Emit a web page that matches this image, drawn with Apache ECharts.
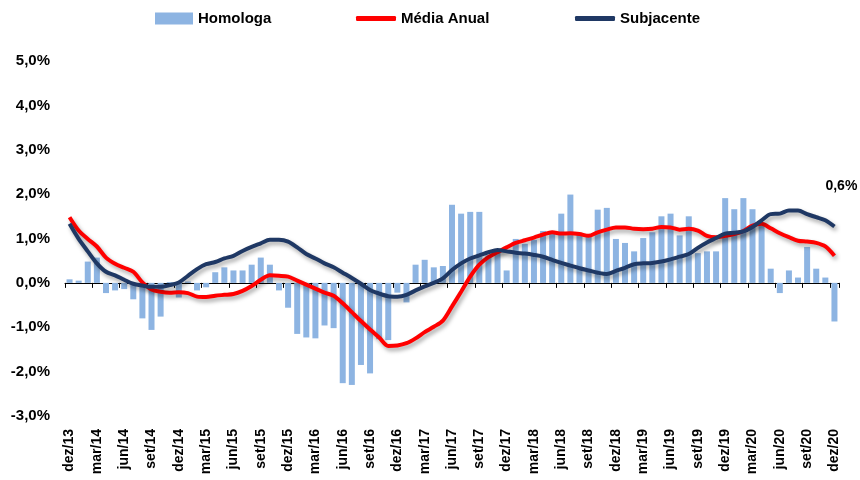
<!DOCTYPE html>
<html>
<head>
<meta charset="utf-8">
<script src="https://cdn.jsdelivr.net/npm/echarts@6/dist/echarts.min.js"></script>
<style>
  html, body { margin: 0; padding: 0; background: #fff; }
  #chart { width: 860px; height: 480px; }
</style>
</head>
<body>
<div id="chart"></div>
<script>
// months dez/13 .. dez/20
var categories = [
  'dez/13',
  'jan/14','fev/14','mar/14','abr/14','mai/14','jun/14','jul/14','ago/14','set/14','out/14','nov/14','dez/14',
  'jan/15','fev/15','mar/15','abr/15','mai/15','jun/15','jul/15','ago/15','set/15','out/15','nov/15','dez/15',
  'jan/16','fev/16','mar/16','abr/16','mai/16','jun/16','jul/16','ago/16','set/16','out/16','nov/16','dez/16',
  'jan/17','fev/17','mar/17','abr/17','mai/17','jun/17','jul/17','ago/17','set/17','out/17','nov/17','dez/17',
  'jan/18','fev/18','mar/18','abr/18','mai/18','jun/18','jul/18','ago/18','set/18','out/18','nov/18','dez/18',
  'jan/19','fev/19','mar/19','abr/19','mai/19','jun/19','jul/19','ago/19','set/19','out/19','nov/19','dez/19',
  'jan/20','fev/20','mar/20','abr/20','mai/20','jun/20','jul/20','ago/20','set/20','out/20','nov/20','dez/20'
];

var homologa = [
  0.08,
  0.05, 0.48, 0.57, -0.23, -0.17, -0.14, -0.37, -0.80, -1.06, -0.76, 0.02, -0.33,
  0.03, -0.17, -0.10, 0.24, 0.35, 0.28, 0.28, 0.41, 0.57, 0.41, -0.17, -0.56,
  -1.15, -1.23, -1.25, -0.96, -1.02, -2.26, -2.30, -1.85, -2.04, -1.27, -1.29, -0.22,
  -0.44, 0.41, 0.52, 0.35, 0.38, 1.76, 1.56, 1.60, 1.60, 0.62, 0.75, 0.28,
  0.99, 0.88, 0.97, 1.17, 1.16, 1.56, 1.99, 1.10, 1.05, 1.65, 1.69, 0.99,
  0.90, 0.71, 1.01, 1.14, 1.50, 1.56, 1.07, 1.50, 0.67, 0.71, 0.71, 1.91,
  1.66, 1.91, 1.66, 1.35, 0.32, -0.23, 0.28, 0.12, 0.81, 0.32, 0.12, -0.87
];

var mediaAnual = [
  1.48,
  1.18, 0.99, 0.82, 0.57, 0.43, 0.34, 0.25, 0.01, -0.15, -0.20, -0.22, -0.21,
  -0.23, -0.31, -0.32, -0.29, -0.27, -0.25, -0.18, -0.07, 0.07, 0.17, 0.16, 0.14,
  0.05, -0.04, -0.13, -0.22, -0.29, -0.46, -0.66, -0.86, -1.05, -1.23, -1.42, -1.41,
  -1.36, -1.25, -1.11, -0.99, -0.85, -0.53, -0.20, 0.14, 0.41, 0.58, 0.69, 0.80,
  0.90, 0.96, 1.02, 1.09, 1.14, 1.11, 1.12, 1.10, 1.06, 1.14, 1.20, 1.25,
  1.25, 1.22, 1.21, 1.22, 1.26, 1.25, 1.20, 1.22, 1.18, 1.06, 1.03, 1.06,
  1.10, 1.17, 1.29, 1.33, 1.23, 1.12, 1.03, 0.95, 0.93, 0.90, 0.82, 0.61
];

var subjacente = [
  1.33,
  0.99, 0.71, 0.44, 0.25, 0.17, 0.07, -0.02, -0.06, -0.09, -0.09, -0.05, 0.01,
  0.16, 0.31, 0.42, 0.47, 0.55, 0.61, 0.72, 0.81, 0.89, 0.97, 0.97, 0.93,
  0.80, 0.65, 0.55, 0.44, 0.35, 0.23, 0.11, -0.02, -0.16, -0.24, -0.30, -0.31,
  -0.27, -0.17, -0.08, 0.00, 0.10, 0.29, 0.44, 0.55, 0.62, 0.69, 0.74, 0.71,
  0.68, 0.66, 0.63, 0.59, 0.52, 0.45, 0.39, 0.33, 0.28, 0.23, 0.20, 0.27,
  0.34, 0.42, 0.44, 0.45, 0.48, 0.53, 0.59, 0.65, 0.79, 0.91, 1.01, 1.11,
  1.13, 1.16, 1.26, 1.41, 1.55, 1.56, 1.63, 1.63, 1.55, 1.48, 1.41, 1.27
];

var lastLabel = '0,6%';

var FONT = 'Liberation Sans';

function pct(v) {
  return v.toFixed(1).replace('.', ',') + '%';
}

var lineShadow = {
  shadowBlur: 4,
  shadowColor: 'rgba(0,0,0,0.35)',
  shadowOffsetX: 2,
  shadowOffsetY: 3
};

var chart = echarts.init(document.getElementById('chart'), null, { renderer: 'canvas' });

var legendText = { color: '#000', fontWeight: 'bold', fontSize: 15, fontFamily: FONT };

var option = {
  backgroundColor: '#fff',
  animation: false,
  legend: [
    { data: [{ name: 'Homologa', icon: 'rect' }], left: 150, top: 6, itemWidth: 38, itemHeight: 12, textStyle: legendText },
    { data: [{ name: 'Média Anual', icon: 'roundRect' }], left: 351, top: 6, itemWidth: 40, itemHeight: 5, textStyle: legendText },
    { data: [{ name: 'Subjacente', icon: 'roundRect' }], left: 570, top: 6, itemWidth: 40, itemHeight: 5, textStyle: legendText }
  ],
  grid: { left: 65, right: 21, top: 61, bottom: 64 },
  xAxis: [
    {
      // labels at the bottom
      type: 'category',
      data: categories,
      position: 'bottom',
      axisLine: { show: false, onZero: false },
      axisTick: { show: false },
      axisLabel: {
        interval: 2, rotate: 90, margin: 13,
        color: '#000', fontWeight: 'bold', fontSize: 14, fontFamily: FONT
      },
      splitLine: { show: false }
    },
    {
      // zero line with ticks
      type: 'category',
      data: categories,
      position: 'bottom',
      axisLine: { show: true, onZero: true, lineStyle: { color: '#000', width: 1 } },
      axisTick: { show: true, interval: 2, inside: false, length: 5, lineStyle: { color: '#000' } },
      axisLabel: { show: false },
      splitLine: { show: false }
    }
  ],
  yAxis: {
    type: 'value',
    min: -3,
    max: 5,
    interval: 1,
    axisLine: { show: false },
    axisTick: { show: false },
    splitLine: { show: false },
    axisLabel: {
      margin: 15,
      formatter: pct,
      color: '#000', fontWeight: 'bold', fontSize: 15, fontFamily: FONT
    }
  },
  series: [
    {
      name: 'Homologa',
      type: 'bar',
      data: homologa,
      barWidth: 6,
      itemStyle: { color: '#8db4e2' }
    },
    {
      name: 'Média Anual',
      type: 'line',
      data: mediaAnual,
      symbol: 'none',
      smooth: 0.3,
      lineStyle: Object.assign({ color: '#ff0000', width: 4 }, lineShadow),
      itemStyle: { color: '#ff0000' },
      // "0,6%" above the last point
      endLabel: {
        show: true,
        formatter: lastLabel,
        offset: [-17, -70],
        color: '#000', fontWeight: 'bold', fontSize: 14, fontFamily: FONT
      }
    },
    {
      name: 'Subjacente',
      type: 'line',
      data: subjacente,
      symbol: 'none',
      smooth: 0.3,
      lineStyle: Object.assign({ color: '#1f3864', width: 4 }, lineShadow),
      itemStyle: { color: '#1f3864' }
    }
  ]
};

chart.setOption(option);
</script>
</body>
</html>
